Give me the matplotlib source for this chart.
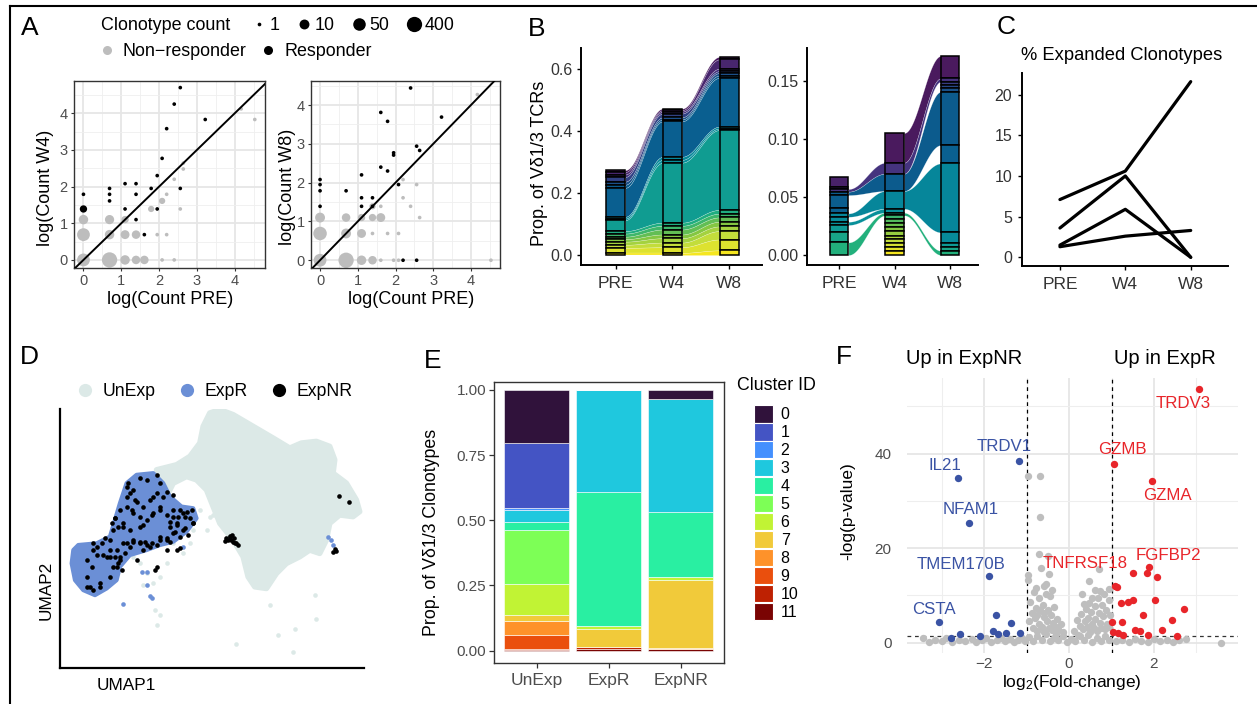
import numpy as np
import matplotlib
matplotlib.use('Agg')
from matplotlib import pyplot as plt
from matplotlib.lines import Line2D
from matplotlib.patches import Patch, Polygon
from matplotlib.colors import LinearSegmentedColormap

plt.rcParams['font.family'] = ['Liberation Sans', 'DejaVu Sans']
plt.rcParams['mathtext.default'] = 'regular'

W, H = 1257, 704
TXT = '#4d4d4d'

# ---------------- A: log(count) per clonotype ----------------
w4_r_x = [0, 0, 0.69, 0.69, 0.69, 1.1, 1.1, 1.39, 1.39, 1.39, 1.61, 1.79, 1.95, 1.95, 2.08, 2.2, 2.4, 2.56, 2.56, 3.22]
w4_r_y = [1.79, 1.39, 1.95, 1.79, 1.61, 2.08, 1.39, 2.08, 1.79, 1.1, 0.69, 1.95, 2.3, 1.39, 2.77, 3.58, 4.25, 4.7, 1.95, 3.83]
w4_r_n = [1, 3, 1, 1, 1, 1, 1, 1, 1, 1, 1, 1, 1, 1, 1, 1, 1, 1, 1, 1]
w4_nr_x = [0, 0, 0, 0.69, 0.69, 0.69, 1.1, 1.1, 1.1, 1.39, 1.39, 1.61, 1.79, 2.08, 1.95, 2.2, 2.4, 2.08, 2.2, 2.4, 2.64, 2.64, 2.56, 4.17, 4.53]
w4_nr_y = [0, 0.69, 1.1, 0, 0.69, 1.1, 0, 0.69, 1.1, 0, 0.69, 0, 1.39, 0, 0.69, 0.69, 0, 1.61, 1.79, 2.2, 2.48, 2.64, 1.39, 4.12, 3.83]
w4_nr_n = [60, 60, 8, 400, 8, 7, 8, 6, 3, 5, 5, 5, 2, 1, 1, 1, 1, 2, 1, 1, 1, 1, 1, 1, 1]

w8_r_x = [0, 0, 0, 0, 0.69, 1.1, 1.1, 1.1, 1.39, 1.39, 1.61, 1.61, 1.79, 1.79, 1.95, 1.95, 2.08, 2.2, 2.4, 2.56, 2.64, 2.56, 3.22]
w8_r_y = [2.08, 1.95, 1.79, 1.39, 1.79, 2.2, 1.61, 1.39, 1.61, 1.39, 3.81, 2.4, 3.58, 2.3, 2.77, 2.71, 1.95, 0, 4.44, 2.94, 2.83, 0, 3.69]
w8_r_n = [1] * 23
w8_nr_x = [0, 0, 0, 0.69, 0.69, 0.69, 1.1, 1.1, 1.1, 1.39, 1.39, 1.39, 1.61, 1.61, 1.61, 1.39, 1.79, 1.95, 2.08, 2.08, 2.2, 2.2, 2.4, 2.56, 2.64, 4.17, 4.53]
w8_nr_y = [0, 0.69, 1.1, 0, 0.69, 1.1, 0, 0.69, 1.1, 0, 1.1, 1.39, 1.1, 1.39, 0, 0.69, 0.69, 0, 0, 0.69, 1.61, 2.08, 1.39, 1.95, 1.1, 4.27, 0]
w8_nr_n = [60, 100, 10, 400, 10, 5, 8, 6, 3, 5, 3, 2, 6, 1, 1, 1, 1, 1, 1, 1, 1, 1, 1, 1, 1, 1, 1]

size_breaks = [1, 10, 50, 400]

# ---------------- B: clonotype proportions (PRE, W4, W8), top to bottom ----------------
timepoints = ['PRE', 'W4', 'W8']
b_left = [
    [0.006, 0.005, 0.008], [0.008, 0.005, 0.030], [0.008, 0.006, 0.008],
    [0.015, 0.012, 0.006], [0.010, 0.007, 0.008], [0.010, 0.006, 0.0075],
    [0.093, 0.114, 0.157], [0.006, 0.010, 0.006], [0.005, 0.009, 0.005],
    [0.035, 0.193, 0.257], [0.008, 0.010, 0.012], [0.010, 0.012, 0.012],
    [0.008, 0.016, 0.014], [0.008, 0.012, 0.015], [0.010, 0.014, 0.015],
    [0.010, 0.015, 0.027], [0.016, 0.018, 0.035], [0.007, 0.007, 0.015],
]
b_right = [
    [0, 0.0256, 0.0193], [0.0086, 0, 0], [0.002, 0, 0], [0.0023, 0.0095, 0.0029],
    [0, 0, 0.0029], [0, 0, 0.0029], [0, 0, 0.0029], [0.0029, 0.0149, 0.046],
    [0.0115, 0, 0], [0.0043, 0, 0.0158], [0.0029, 0.0153, 0.0595], [0.0043, 0, 0.0094],
    [0.0028, 0.0034, 0], [0.0058, 0, 0.0035], [0.0092, 0, 0.0029], [0.0109, 0.0023, 0.0037],
    [0, 0.0029, 0], [0, 0.0037, 0], [0, 0.0034, 0], [0, 0.0037, 0], [0, 0.0037, 0],
    [0, 0.0034, 0], [0, 0.0034, 0], [0, 0.0034, 0], [0, 0.0029, 0], [0, 0.0037, 0],
]
clono_cmap = LinearSegmentedColormap.from_list('clono', [
    (0.0, '#4a1a5e'), (0.12, '#45337f'), (0.28, '#0b5b8d'), (0.36, '#0a5f90'),
    (0.40, '#06869a'), (0.50, '#08939a'), (0.60, '#22b07c'), (0.75, '#7cc443'),
    (0.90, '#cde03a'), (1.0, '#f5e61f')])

# ---------------- C: % expanded clonotypes per patient ----------------
c_pct = [
    [7.1, 10.6, 21.6],
    [3.6, 10.0, 0.0],
    [1.5, 5.9, 0.0],
    [1.3, 2.6, 3.3],
]

# ---------------- D: UMAP (outlines of dense regions + single cells) ----------------
unexp_outline = [
    (47, -48), (53, -46.5), (57, -44), (60, -40), (61, -35), (63, -31), (66, -30), (70, -31.5),
    (76, -35), (82, -38.5), (87, -41.5), (90.5, -40), (95, -39.5), (99, -41), (100.5, -45),
    (100, -49), (104, -52), (107, -57), (108, -60.5), (106, -62), (102, -61.5), (99, -64),
    (98, -69), (96, -73), (93, -72), (90, -74), (86, -76), (83, -79), (80, -83.5), (76.5, -83),
    (74.5, -80), (73, -74), (70, -69), (66, -64), (64, -59), (62, -54), (59, -51), (56, -50),
    (52, -52), (50, -56),
]
unexp_cells = [
    (47, -94.5), (48, -91.5), (46.5, -90), (71, -100), (83.5, -97.5), (88, -102.5), (88.5, -95.5),
    (95, -92.5), (94.5, -85.5), (81, -88.5), (63, -62), (60, -60), (66, -60), (44, -79), (48, -80),
    (42, -76), (50, -76), (55, -73), (52, -70), (58, -66), (40, -74), (64, -61.5), (46, -82),
    (43, -82.5), (62, -66), (57, -70), (60, -52), (57, -48), (52, -49),
]
expr_outline = [
    (22, -72), (23.5, -70.5), (29, -70), (33, -68), (34.5, -63), (36, -58), (38, -52), (41, -49.5),
    (46, -49), (49, -52), (51, -56), (54.5, -59), (58, -59.5), (59, -62.5), (56, -66.5), (52, -69.5),
    (48, -70.5), (44, -72), (39, -73.5), (36, -77), (35, -81), (32, -83.5), (28.5, -85.5), (25, -84),
    (22.5, -81), (21.5, -76),
]
expr_cells = [
    (44, -82.5), (45, -85.8), (45.5, -86.5), (42.5, -78.5), (44, -78.5), (98.5, -68), (99.5, -69),
    (100, -70.5), (55, -71), (37, -88),
]
expnr_cells = [
    (38.5, -52), (40, -54), (42, -50.5), (44, -51), (47, -49.5), (48, -52), (50, -54.5), (52, -55.5),
    (38, -56), (36, -60), (34.5, -62.5), (39.5, -60), (42, -62), (45.5, -61.5), (48, -60), (50, -61.5),
    (52, -62), (54, -60), (56, -60.5), (57.5, -60), (58, -64), (55, -66), (52, -67), (50, -69),
    (48, -68), (45.5, -70), (44, -70.5), (42, -69.5), (40, -69), (37, -70), (35, -72), (33, -74),
    (31, -73.5), (29, -71), (28, -70), (36, -74), (34, -77), (35.5, -76), (33, -80), (26, -83),
    (28, -84), (30, -83), (26, -80), (47, -77), (46.5, -78), (53, -72), (54, -71.5), (50, -72),
    (43, -64.5), (46, -56), (41, -57.5), (39, -66), (37, -65), (53, -64), (55.5, -62), (51, -65),
    (52, -60), (53.5, -62), (55, -61), (57, -62.5), (58, -64), (53, -64.5), (51, -63.5),
    (52.5, -66.5), (54, -68), (55.5, -65.5), (56.5, -67.5), (50, -68.5), (51, -69.5), (48, -69),
    (47, -70.5), (45, -71), (43, -72), (42, -70), (43.5, -69.5), (33, -72), (34.5, -74), (36, -75),
    (37.5, -73), (39, -71), (41, -75), (35, -77), (36.5, -78), (38, -70), (40, -69.5), (33, -69),
    (31.5, -68.5), (30.5, -70), (34, -66), (33.5, -64), (38, -53), (39, -55), (40.5, -57), (43, -59),
    (45, -57), (47, -55), (49, -56), (48, -59), (46, -61), (44, -63), (42, -65), (40, -61), (38, -59),
    (37, -64), (35.5, -65), (34.5, -62.5), (28, -72), (29, -73.5), (26, -75), (27.5, -77), (30, -82),
    (27, -83), (32, -74),
    (68, -68.5), (69, -67.8), (69.5, -69), (70, -69.5), (68.5, -69), (70.5, -70), (71.5, -70.5),
    (69, -68.2), (69.8, -67.6), (71, -70), (67.5, -69.2), (70.2, -68.5),
    (101.7, -55.8), (104.8, -57.7), (100, -72.5), (100.5, -71.8), (101, -72.2),
]

# ---------------- E: cluster composition ----------------
e_groups = ['UnExp', 'ExpR', 'ExpNR']
cluster_ids = [str(i) for i in range(12)]
cluster_colors = ['#30123b', '#4454c4', '#4490fe', '#1fc8de', '#29efa2', '#7dff56',
                  '#c1f334', '#f1ca3a', '#fe922a', '#ea4f0d', '#be2102', '#7a0403']
e_unexp = [0.203, 0.252, 0.005, 0.045, 0.034, 0.204, 0.121, 0.023, 0.054, 0.052, 0.004, 0.003]
e_expr = [0, 0, 0, 0.392, 0.513, 0, 0.011, 0.072, 0, 0, 0.006, 0.006]
e_expnr = [0.037, 0, 0, 0.433, 0.248, 0, 0.010, 0.263, 0.003, 0, 0, 0.006]

# ---------------- F: volcano ----------------
f_up = [(3.06, 53.6), (1.05, 37.9), (1.95, 34.2), (1.88, 15.9), (1.83, 14.8), (2.06, 13.9),
        (1.50, 14.7), (1.09, 11.9), (1.14, 11.7), (1.23, 8.3), (1.38, 8.5), (1.50, 9.0),
        (2.02, 9.0), (1.75, 5.8), (2.71, 7.1), (2.42, 4.8), (1.25, 4.3), (1.00, 4.45),
        (1.04, 2.3), (1.56, 2.7), (1.68, 2.5), (1.85, 1.6), (2.18, 2.7), (2.54, 1.3),
        (1.15, 2.1), (1.27, 1.6)]
f_down = [(-1.17, 38.5), (-2.62, 34.8), (-2.35, 25.3), (-1.88, 14.0), (-3.07, 4.3),
          (-2.79, 1.06), (-2.56, 1.77), (-2.10, 1.4), (-1.72, 5.9), (-1.79, 2.5),
          (-1.67, 1.8), (-1.48, 2.0), (-1.36, 4.2), (-1.15, 2.1)]
f_ns = [(-3.45, 0.9), (-3.3, 0.2), (-3.15, 0.6), (-3.0, 0.3), (-2.9, 0.9), (-2.75, 0.2),
        (-2.6, 0.6), (-2.45, 0.3), (-2.3, 0.8), (-2.2, 0.2), (-2.05, 0.5), (-1.95, 0.9),
        (-1.85, 0.2), (-1.7, 0.5), (-1.6, 0.9), (-1.5, 0.3), (-1.4, 0.7), (-1.3, 0.2),
        (-1.2, 0.5), (-1.1, 0.9), (-1.05, 0.3), (1.1, 0.3), (1.25, 0.6), (1.4, 0.2),
        (1.55, 0.8), (1.7, 0.4), (1.85, 0.2), (2.0, 0.7), (2.15, 0.3), (2.3, 0.6),
        (2.45, 0.2), (2.6, 0.5), (2.75, 0.8), (3.58, -0.1),
        (-0.95, 1.2), (-0.85, 0.4), (-0.75, 1.5), (-0.65, 0.6), (-0.55, 1.8), (-0.45, 0.3),
        (-0.35, 1.0), (-0.25, 0.5), (-0.15, 1.4), (-0.05, 0.2), (0.05, 0.8), (0.15, 0.3),
        (0.25, 1.3), (0.35, 0.5), (0.45, 1.7), (0.55, 0.2), (0.65, 1.0), (0.75, 0.4),
        (0.85, 1.5), (0.95, 0.6),
        (-0.95, 4.5), (-0.92, 8.5), (-0.88, 6.2), (-0.85, 3.0), (-0.82, 10.8), (-0.8, 5.2),
        (-0.78, 7.4), (-0.75, 2.4), (-0.72, 9.5), (-0.7, 4.0), (-0.68, 6.8), (-0.65, 3.2),
        (-0.62, 8.0), (-0.6, 5.5), (-0.58, 2.2), (-0.55, 10.2), (-0.52, 4.6), (-0.5, 7.0),
        (-0.48, 3.0), (-0.45, 9.8), (-0.42, 5.8), (-0.4, 2.6), (-0.38, 4.2), (-0.35, 7.5),
        (-0.32, 3.4), (-0.3, 1.8), (-0.28, 5.0), (-0.25, 2.8), (-0.2, 4.0), (-0.15, 2.2),
        (-0.6, 6.3), (-0.75, 5.8),
        (-0.98, 35.3), (-0.68, 35.3), (-0.68, 26.5), (-0.72, 18.8), (-0.5, 18.3), (-0.67, 15.8),
        (-0.47, 14.5), (-0.98, 14.3), (-0.98, 13.3), (-0.6, 12.0), (-0.78, 11.5), (-0.4, 11.2),
        (-0.55, 12.5),
        (0.12, 2.4), (0.18, 4.8), (0.2, 1.6), (0.25, 3.6), (0.28, 6.0), (0.3, 10.3), (0.33, 2.8),
        (0.37, 4.5), (0.4, 7.2), (0.42, 3.2), (0.45, 5.3), (0.48, 8.4), (0.5, 2.2), (0.52, 6.5),
        (0.55, 4.0), (0.58, 3.0), (0.6, 7.8), (0.62, 5.0), (0.65, 2.5), (0.67, 9.4), (0.7, 6.2),
        (0.72, 4.2), (0.75, 3.0), (0.77, 8.0), (0.8, 5.6), (0.82, 10.3), (0.85, 2.8), (0.88, 6.8),
        (0.9, 4.0), (0.93, 9.0), (0.95, 3.4), (0.97, 5.8), (0.35, 8.2), (0.55, 9.5),
        (0.48, 13.1), (0.7, 15.5), (0.6, 11.2), (0.72, 11.0), (0.95, 11.3)]
f_labels = ['TRDV1', 'IL21', 'NFAM1', 'TMEM170B', 'CSTA', 'TRDV3', 'GZMB', 'GZMA', 'FGFBP2', 'TNFRSF18']
f_label_x = [-1.54, -2.92, -2.31, -2.54, -3.19, 2.69, 1.25, 2.32, 2.35, 0.37]
f_label_y = [41.6, 37.5, 28.1, 16.5, 7.1, 50.6, 40.8, 31.2, 18.4, 16.7]
fc_cut = 1.0
p_cut = 1.3

BLUE_F = '#3a53a4'
RED_F = '#e8252a'

fig = plt.figure(figsize=(W / 100, H / 100), dpi=100)


def px_axes(x0, y0, x1, y1):
    return fig.add_axes([x0 / W, 1 - y1 / H, (x1 - x0) / W, (y1 - y0) / H])


def ftext(x, y, s, **kw):
    kw.setdefault('ha', 'center')
    kw.setdefault('va', 'center')
    return fig.text(x / W, 1 - y / H, s, **kw)


def count_size(n):
    return 7 + 19 * np.log(np.asarray(n, dtype=float))


def classic(ax, fs=11.5):
    for s in ['top', 'right']:
        ax.spines[s].set_visible(False)
    for s in ['left', 'bottom']:
        ax.spines[s].set_linewidth(1.4)
    ax.tick_params(length=3, width=1.0, labelsize=fs, labelcolor='#333333', pad=3)


# ---------- panel A ----------
def panel_a(ax, rx, ry, rn, nx, ny, nn, xlim, ylim):
    ax.set_xlim(xlim)
    ax.set_ylim(ylim)
    ax.set_xticks(range(5))
    ax.set_yticks(range(5))
    ax.set_xticks(np.arange(0.5, 5, 1), minor=True)
    ax.set_yticks(np.arange(0.5, 5, 1), minor=True)
    ax.grid(which='major', color='#e6e6e6', lw=1.3)
    ax.grid(which='minor', color='#efefef', lw=0.6)
    ax.set_axisbelow(True)
    ax.scatter(nx, ny, s=count_size(nn), color='#bdbdbd', lw=0, zorder=2)
    ax.scatter(rx, ry, s=count_size(rn), color='black', lw=0, zorder=3)
    ax.axline((0, 0), slope=1, color='black', lw=1.4, zorder=4)
    for sp in ax.spines.values():
        sp.set_color('#333333')
        sp.set_linewidth(1.0)
    ax.tick_params(which='major', length=2.5, width=0.8, color='#333333',
                   labelsize=10.5, labelcolor=TXT, pad=2)
    ax.tick_params(which='minor', length=0)


axA1 = px_axes(74, 81, 265, 268)
panel_a(axA1, w4_r_x, w4_r_y, w4_r_n, w4_nr_x, w4_nr_y, w4_nr_n, (-0.25, 4.8), (-0.22, 4.88))
axA2 = px_axes(311, 81, 500, 268)
panel_a(axA2, w8_r_x, w8_r_y, w8_r_n, w8_nr_x, w8_nr_y, w8_nr_n, (-0.24, 4.77), (-0.2, 4.62))
ftext(170, 300, 'log(Count PRE)', fontsize=13)
ftext(411, 300, 'log(Count PRE)', fontsize=13)
ftext(46, 188, 'log(Count W4)', fontsize=13, rotation=90)
ftext(287, 187, 'log(Count W8)', fontsize=13, rotation=90)

ftext(101, 26, 'Clonotype count', fontsize=12.9, ha='left')
size_handles = [Line2D([], [], ls='', marker='o', color='black', mew=0,
                       markersize=np.sqrt(count_size(b))) for b in size_breaks]
fig.legend(size_handles, [str(b) for b in size_breaks], ncol=4, frameon=False,
           loc='center left', bbox_to_anchor=(252 / W, 1 - 26 / H), fontsize=12.9,
           handlelength=0.8, handletextpad=0.2, columnspacing=0.95,
           borderpad=0, borderaxespad=0)
grp_handles = [Line2D([], [], ls='', marker='o', color=c, mew=0, markersize=6.5)
               for c in ['#bdbdbd', 'black']]
fig.legend(grp_handles, ['Non\u2212responder', 'Responder'], ncol=2, frameon=False,
           loc='center left', bbox_to_anchor=(99.5 / W, 1 - 52 / H), fontsize=12.9,
           handlelength=0.8, handletextpad=0.5, columnspacing=0.8,
           borderpad=0, borderaxespad=0)


# ---------- panel B ----------
def alluvial(ax, vals, w=1 / 3):
    vals = np.asarray(vals, dtype=float)
    n, T = vals.shape
    colors = clono_cmap(np.linspace(0, 1, n))
    hi = vals[::-1].cumsum(axis=0)[::-1]
    lo = hi - vals
    xs = np.arange(1, T + 1)
    s = np.linspace(0, 1, 60)
    sm = (1 - np.cos(np.pi * s)) / 2
    for t in range(T - 1):
        x0, x1 = xs[t] + w / 2, xs[t + 1] - w / 2
        xx = x0 + (x1 - x0) * s
        for i in range(n):
            if vals[i, t] > 0 and vals[i, t + 1] > 0:
                top = hi[i, t] + (hi[i, t + 1] - hi[i, t]) * sm
                bot = lo[i, t] + (lo[i, t + 1] - lo[i, t]) * sm
                ax.fill_between(xx, bot, top, facecolor=colors[i], edgecolor=(1, 1, 1, 0.45),
                                lw=0.3, zorder=1)
    for t in range(T):
        m = vals[:, t] > 0
        ax.bar(np.full(m.sum(), xs[t]), vals[m, t], bottom=lo[m, t], width=w,
               color=colors[m], edgecolor='black', lw=1.1, zorder=2)
    ax.set_xticks(xs)
    ax.set_xticklabels(timepoints)


axB1 = px_axes(581, 48, 762, 265)
alluvial(axB1, b_left)
axB1.set_xlim(0.39, 3.58)
axB1.set_ylim(-0.032, 0.666)
axB1.set_yticks([0, 0.2, 0.4, 0.6])
axB1.set_yticklabels(['0.0', '0.2', '0.4', '0.6'])
classic(axB1)
axB1.tick_params(axis='x', pad=5, labelsize=12.5)
ftext(539, 163, 'Prop. of V\u03b41/3 TCRs', fontsize=13, rotation=90)

axB2 = px_axes(807, 48, 978, 265)
alluvial(axB2, b_right)
axB2.set_xlim(0.42, 3.5)
axB2.set_ylim(-0.0086, 0.1785)
axB2.set_yticks([0, 0.05, 0.10, 0.15])
axB2.set_yticklabels(['0.00', '0.05', '0.10', '0.15'])
classic(axB2)
axB2.tick_params(axis='x', pad=5, labelsize=12.5)

# ---------- panel C ----------
axC = px_axes(1022, 73, 1228, 266)
for row in c_pct:
    axC.plot([1, 2, 3], row, color='black', lw=2.3, solid_capstyle='round', solid_joinstyle='round')
axC.set_xlim(0.42, 3.57)
axC.set_ylim(-1.07, 22.66)
axC.set_xticks([1, 2, 3])
axC.set_xticklabels(timepoints)
axC.set_yticks([0, 5, 10, 15, 20])
classic(axC)
axC.tick_params(axis='y', pad=4)
axC.tick_params(axis='x', pad=5, labelsize=12.5)
ftext(1122, 56, '% Expanded Clonotypes', fontsize=13.2)

# ---------- panel D ----------
axD = px_axes(60, 409, 364, 668)
axD.add_patch(Polygon(unexp_outline, closed=True, facecolor='#dce9e7', edgecolor='#dce9e7',
                      lw=4, joinstyle='round', zorder=1))
ux, uy = zip(*unexp_cells)
axD.scatter(ux, uy, s=11, color='#dce9e7', lw=0, zorder=1)
axD.add_patch(Polygon(expr_outline, closed=True, facecolor='#6b8fd6', edgecolor='#6b8fd6',
                      lw=3, joinstyle='round', zorder=2))
bx, by = zip(*expr_cells)
axD.scatter(bx, by, s=11, color='#6b8fd6', lw=0, zorder=2)
kx, ky = zip(*expnr_cells)
axD.scatter(kx, ky, s=11, color='black', lw=0, zorder=3)
axD.set_xlim(18, 109.3)
axD.set_ylim(-107.3, -29.8)
axD.set_xticks([])
axD.set_yticks([])
for s in ['top', 'right']:
    axD.spines[s].set_visible(False)
for s in ['left', 'bottom']:
    axD.spines[s].set_linewidth(1.6)
ftext(126, 685, 'UMAP1', fontsize=12.4)
ftext(46, 590, 'UMAP2', fontsize=12.4, rotation=90)
d_handles = [Line2D([], [], ls='', marker='o', color=c, mew=0, markersize=9.5)
             for c in ['#dce9e7', '#6b8fd6', 'black']]
fig.legend(d_handles, ['UnExp', 'ExpR', 'ExpNR'], ncol=3, frameon=False,
           loc='center left', bbox_to_anchor=(78 / W, 1 - 392 / H), fontsize=12.7,
           handlelength=0.8, handletextpad=0.57, columnspacing=1.4,
           borderpad=0, borderaxespad=0)

# ---------- panel E ----------
axE = px_axes(494, 382, 724, 663)
e_vals = np.array([e_unexp, e_expr, e_expnr])
xpos = np.arange(1, 4)
bottom = np.zeros(3)
for k in range(11, -1, -1):
    axE.bar(xpos, e_vals[:, k], bottom=bottom, width=0.9, color=cluster_colors[k],
            edgecolor='white', lw=0.4)
    bottom += e_vals[:, k]
axE.set_xlim(0.41, 3.6)
axE.set_ylim(-0.0475, 1.03)
axE.set_xticks(xpos)
axE.set_xticklabels(e_groups)
axE.set_yticks([0, 0.25, 0.5, 0.75, 1.0])
axE.set_yticklabels(['0.00', '0.25', '0.50', '0.75', '1.00'])
for sp in axE.spines.values():
    sp.set_color('#333333')
    sp.set_linewidth(1.0)
axE.tick_params(length=3.5, width=0.9, color='#333333', labelsize=11, labelcolor=TXT, pad=2)
axE.tick_params(axis='x', labelsize=12.5, pad=4)
ftext(431, 532, 'Prop. of V\u03b41/3 Clonotypes', fontsize=12.8, rotation=90)
ftext(737, 386, 'Cluster ID', fontsize=12.8, ha='left')
e_handles = [Patch(facecolor=c, edgecolor='white', lw=0.8) for c in cluster_colors]
fig.legend(e_handles, cluster_ids, frameon=False, loc='upper left',
           bbox_to_anchor=(754 / W, 1 - 405 / H), fontsize=11.5,
           handlelength=1.19, handleheight=1.31, labelspacing=0.03, handletextpad=0.48,
           borderpad=0, borderaxespad=0)

# ---------- panel F ----------
axF = px_axes(907, 378, 1238, 653)
nsx, nsy = zip(*f_ns)
axF.scatter(nsx, nsy, s=28, color='#bebebe', lw=0, zorder=2)
dx, dy = zip(*f_down)
axF.scatter(dx, dy, s=28, color=BLUE_F, lw=0, zorder=3)
upx, upy = zip(*f_up)
axF.scatter(upx, upy, s=28, color=RED_F, lw=0, zorder=3)
axF.axvline(-fc_cut, color='black', ls=(0, (3, 3)), lw=0.9, zorder=1)
axF.axvline(fc_cut, color='black', ls=(0, (3, 3)), lw=0.9, zorder=1)
axF.axhline(p_cut, color='#333333', ls=(0, (3, 3)), lw=0.9, zorder=1)
for i, lab in enumerate(f_labels):
    axF.text(f_label_x[i], f_label_y[i], lab, color=BLUE_F if i < 5 else RED_F,
             fontsize=12.2, ha='center', va='center', zorder=4)
axF.set_xlim(-3.82, 3.98)
axF.set_ylim(-2.2, 56)
axF.set_xticks([-2, 0, 2])
axF.set_yticks([0, 20, 40])
axF.set_xticks([-3, -1, 1, 3], minor=True)
axF.set_yticks([10, 30, 50], minor=True)
axF.grid(which='major', color='#e6e6e6', lw=1.3)
axF.grid(which='minor', color='#eeeeee', lw=0.8)
axF.set_axisbelow(True)
for sp in axF.spines.values():
    sp.set_visible(False)
axF.tick_params(which='both', length=0, labelsize=11, labelcolor=TXT)
axF.tick_params(axis='y', pad=11)
axF.tick_params(axis='x', pad=3)
ftext(848, 511, '-log(p-value)', fontsize=12.5, rotation=90)
ftext(1072, 683, 'log$_2$(Fold-change)', fontsize=12.5)
ftext(964, 358, 'Up in ExpNR', fontsize=14.5)
ftext(1165, 358, 'Up in ExpR', fontsize=14.5)

# ---------- panel letters and frame ----------
for letter, x, y in [('A', 30, 28), ('B', 537, 29), ('C', 1006, 27),
                     ('D', 29, 357), ('E', 433, 361), ('F', 844, 357)]:
    ftext(x, y, letter, fontsize=19)
fig.add_artist(Line2D([10 / W, 1], [1 - 6 / H, 1 - 6 / H], transform=fig.transFigure,
                      color='black', lw=1.5))
fig.add_artist(Line2D([10 / W, 10 / W], [1 - 6 / H, 0], transform=fig.transFigure,
                      color='black', lw=1.5))

fig.savefig('out.png', dpi=100)
